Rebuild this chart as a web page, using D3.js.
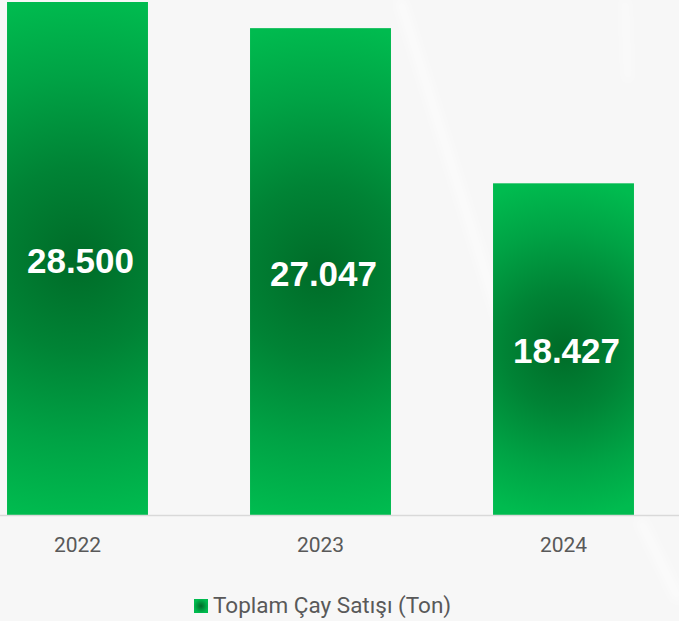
<!DOCTYPE html>
<html>
<head>
<meta charset="utf-8">
<script src="https://cdn.jsdelivr.net/npm/d3@7/dist/d3.min.js"></script>
<style>
  html, body { margin: 0; padding: 0; background: #f7f7f7; }
  svg { display: block; }
</style>
</head>
<body>
<svg id="chart" width="679" height="621"></svg>
<script>
const years = ["2022", "2023", "2024"];
const sales = [28500, 27047, 18427];
const valueLabels = ["28.500", "27.047", "18.427"];
const seriesName = "Toplam Çay Satışı (Ton)";

const W = 679, H = 621;
const svg = d3.select("#chart");

svg.append("rect").attr("width", W).attr("height", H).attr("fill", "#f7f7f7");

// faint decorative streaks
const defs = svg.append("defs");
defs.append("filter").attr("id", "blur").append("feGaussianBlur").attr("stdDeviation", 4);
const streaks = svg.append("g").attr("filter", "url(#blur)").attr("stroke", "#ffffff").attr("stroke-opacity", 0.6).attr("fill", "none");
streaks.append("line").attr("x1", 400).attr("y1", 0).attr("x2", 500).attr("y2", 320).attr("stroke-width", 8);
streaks.append("line").attr("x1", 625).attr("y1", 0).attr("x2", 628).attr("y2", 80).attr("stroke-width", 5);
streaks.append("line").attr("x1", 640).attr("y1", 520).attr("x2", 679).attr("y2", 600).attr("stroke-width", 8);

const x = d3.scaleBand().domain(years).range([-44, 685]).paddingInner(0.42).paddingOuter(0.21);
const y = d3.scaleLinear().domain([0, 28500]).range([515, 2]);

const data = years.map((yr, i) => ({ year: yr, value: sales[i], label: valueLabels[i] }));

// per-bar radial gradients
data.forEach((d, i) => {
  const cx = x(d.year) + x.bandwidth() / 2;
  const cy = (y(d.value) + y(0)) / 2;
  const r = (y(0) - y(d.value)) / 2;
  const g = defs.append("radialGradient").attr("id", "grad" + i)
    .attr("gradientUnits", "userSpaceOnUse")
    .attr("cx", cx).attr("cy", cy).attr("r", r * 1.02).attr("fx", cx).attr("fy", cy);
  g.append("stop").attr("offset", "0").attr("stop-color", "#006b28");
  g.append("stop").attr("offset", "0.35").attr("stop-color", "#008335");
  g.append("stop").attr("offset", "0.7").attr("stop-color", "#00a345");
  g.append("stop").attr("offset", "1").attr("stop-color", "#00bb4f");
});

svg.append("g").selectAll("rect").data(data).join("rect")
  .attr("x", d => x(d.year))
  .attr("y", d => y(d.value))
  .attr("width", x.bandwidth())
  .attr("height", d => y(0) - y(d.value))
  .attr("fill", (d, i) => `url(#grad${i})`);

// axis
const axis = svg.append("g").attr("transform", `translate(0,${y(0)})`)
  .call(d3.axisBottom(x).tickSize(0).tickPadding(22));
axis.select(".domain").remove();
axis.append("line").attr("x1", 0).attr("x2", W).attr("y1", 0.5).attr("y2", 0.5)
  .attr("stroke", "#d9d9d9").attr("stroke-width", 1.5);
axis.selectAll(".tick text")
  .attr("font-family", "Roboto, 'Open Sans', sans-serif")
  .attr("font-size", 21)
  .attr("fill", "#595959");

// value labels
svg.append("g").selectAll("text").data(data).join("text")
  .attr("x", d => x(d.year) + x.bandwidth() / 2 + 3)
  .attr("y", d => (y(d.value) + y(0)) / 2 + 14)
  .attr("text-anchor", "middle")
  .attr("font-family", "'Liberation Sans', Arial, sans-serif")
  .attr("font-weight", "bold")
  .attr("font-size", 35)
  .attr("fill", "#ffffff")
  .text(d => d.label);

// legend
const lg = defs.append("radialGradient").attr("id", "legGrad");
lg.append("stop").attr("offset", "0").attr("stop-color", "#006b28");
lg.append("stop").attr("offset", "1").attr("stop-color", "#00bb4f");
const legend = svg.append("g").attr("transform", "translate(194,599)");
legend.append("rect").attr("width", 14).attr("height", 14).attr("fill", "url(#legGrad)");
legend.append("text").attr("x", 19).attr("y", 14)
  .attr("font-family", "Roboto, 'Open Sans', sans-serif")
  .attr("font-size", 22.5)
  .attr("fill", "#595959")
  .text(seriesName);
</script>
</body>
</html>
